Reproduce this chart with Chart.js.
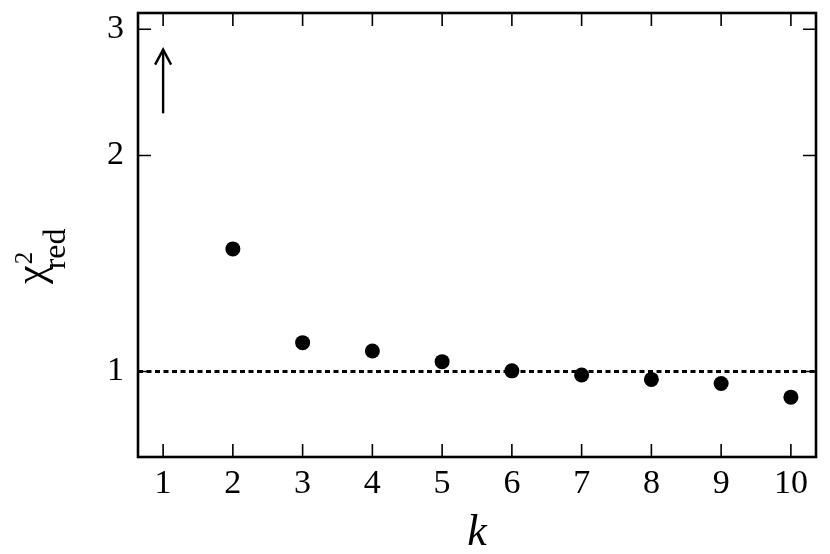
<!DOCTYPE html>
<html>
<head>
<meta charset="utf-8">
<script src="https://cdn.jsdelivr.net/npm/chart.js@4/dist/chart.umd.min.js"></script>
<style>
  html, body { margin: 0; background: #fff; }
  #wrap { width: 830px; height: 554px; }
</style>
</head>
<body>
<div id="wrap"><canvas id="chart"></canvas></div>
<script>
// --- DATA ---
const kValues = [2, 3, 4, 5, 6, 7, 8, 9, 10];
const chiValues = [1.482, 1.097, 1.068, 1.032, 1.002, 0.989, 0.975, 0.962, 0.921];
const arrowK = [1, 1];             // k = 1 lies off scale, shown by an arrow
const arrowChi = [2.29, 2.81];
const refK = [0.64, 10.36];        // dotted reference line at chi2 = 1
const refChi = [1, 1];
const xTicks = [1, 2, 3, 4, 5, 6, 7, 8, 9, 10];
const yTicks = [1, 2, 3];

const FONT = '"Liberation Serif", "Times New Roman", serif';
const toPts = (xs, ys) => xs.map((x, i) => ({ x, y: ys[i] }));

// --- PLUGINS ---
const frame = {
    id: 'frame',
    afterDraw(chart) {
        const { ctx, chartArea: a, scales: { x, y } } = chart;
        ctx.save();
        ctx.strokeStyle = '#000';
        ctx.lineWidth = 1.6;
        const len = 13;
        ctx.beginPath();
        xTicks.forEach(v => {
            const px = x.getPixelForValue(v);
            ctx.moveTo(px, a.bottom); ctx.lineTo(px, a.bottom - len);
            ctx.moveTo(px, a.top); ctx.lineTo(px, a.top + len);
        });
        yTicks.forEach(v => {
            const py = y.getPixelForValue(v);
            ctx.moveTo(a.left, py); ctx.lineTo(a.left + len, py);
            ctx.moveTo(a.right, py); ctx.lineTo(a.right - len, py);
        });
        ctx.stroke();
        ctx.lineWidth = 2.6;
        ctx.strokeRect(a.left, a.top, a.right - a.left, a.bottom - a.top);

        // arrow head on the k = 1 marker
        const tip = chart.getDatasetMeta(2).data[1];
        ctx.lineWidth = 2.4;
        ctx.beginPath();
        ctx.moveTo(tip.x - 8, tip.y + 15);
        ctx.lineTo(tip.x, tip.y);
        ctx.lineTo(tip.x + 8, tip.y + 15);
        ctx.stroke();

        // y title: chi^2_red
        const cy = (a.top + a.bottom) / 2;
        ctx.translate(44, cy + 49);
        ctx.rotate(-Math.PI / 2);
        ctx.fillStyle = '#000';
        ctx.textBaseline = 'alphabetic';
        ctx.font = `42px ${FONT}`;
        ctx.fillText('χ', 0, 0);
        const w = ctx.measureText('χ').width;
        ctx.font = `25px ${FONT}`;
        ctx.fillText('2', w + 1, -12);
        ctx.font = `32px ${FONT}`;
        ctx.fillText('red', w - 4, 21);
        ctx.restore();
    }
};

// --- CHART ---
new Chart(document.getElementById('chart'), {
    type: 'scatter',
    data: {
        datasets: [
            { data: toPts(kValues, chiValues), backgroundColor: '#000', borderColor: '#000', pointRadius: 7.5, pointHoverRadius: 7.5, borderWidth: 0 },
            { data: toPts(refK, refChi), showLine: true, borderColor: '#000', borderWidth: 3, borderDash: [5, 3.5], pointRadius: 0 },
            { data: toPts(arrowK, arrowChi), showLine: true, borderColor: '#000', borderWidth: 2.4, pointRadius: 0 }
        ]
    },
    options: {
        responsive: true,
        maintainAspectRatio: false,
        animation: false,
        events: [],
        layout: { padding: { top: 13, right: 14, left: 0, bottom: 0 } },
        plugins: { legend: { display: false }, tooltip: { enabled: false } },
        scales: {
            x: {
                type: 'linear', min: 0.64, max: 10.36,
                afterBuildTicks: s => { s.ticks = xTicks.map(value => ({ value })); },
                afterFit: s => { s.height = 97; s.paddingLeft = 0; s.paddingRight = 0; },
                grid: { display: false, drawTicks: false },
                border: { display: false },
                ticks: { color: '#000', font: { family: FONT, size: 34 }, padding: 7, maxRotation: 0 },
                title: { display: true, text: 'k', color: '#000', padding: 0, font: { family: FONT, size: 44, style: 'italic', lineHeight: 0.95 } }
            },
            y: {
                type: 'logarithmic', min: 0.76, max: 3.16,
                afterBuildTicks: s => { s.ticks = yTicks.map(value => ({ value })); },
                afterFit: s => { s.width = 138; s.paddingTop = 0; s.paddingBottom = 0; },
                grid: { display: false, drawTicks: false },
                border: { display: false },
                ticks: { color: '#000', font: { family: FONT, size: 34 }, padding: 14, callback: v => String(v) }
            }
        }
    },
    plugins: [frame]
});
</script>
</body>
</html>
